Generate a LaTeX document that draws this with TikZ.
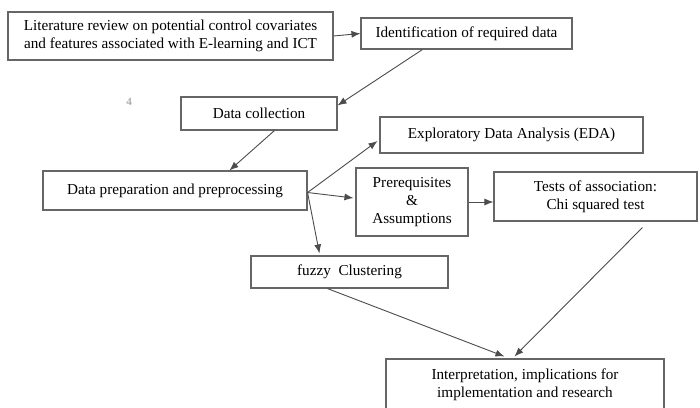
\documentclass[tikz,border=0pt]{standalone}
\usepackage{fontspec}
\setmainfont{Liberation Serif}
\usetikzlibrary{arrows.meta,calc}
\begin{document}
\begin{tikzpicture}[x=1pt,y=-1pt,
  box/.style={draw=black!60,line width=1.1pt,fill=white,inner sep=1pt,align=center,
    font=\fontsize{15.2}{18}\selectfont,text=black},
  conn/.style={draw=black!70,line width=0.9pt,-{Latex[length=9pt,width=7pt]}}]
\clip (0,0) rectangle (700,407);
\fill[white] (0,0) rectangle (700,407);
\node[box,minimum width=325pt,minimum height=48pt] (lit) at (170.5,36)
  {Literature review on potential control covariates\\and features associated with E-learning and ICT};
\node[box,minimum width=211pt,minimum height=31pt] (ident) at (466.5,33.5) {Identification of required data};
\node[text=black!45,font=\fontsize{11}{12}\selectfont] (four) at (129,102) {4};
\node[box,minimum width=156pt,minimum height=33pt] (dcol) at (259,113.5) {Data collection};
\node[box,minimum width=263pt,minimum height=36pt] (eda) at (511.5,135) {Exploratory Data Analysis (EDA)};
\node[box,minimum width=264pt,minimum height=39pt] (prep) at (175,190.5) {Data preparation and preprocessing};
\node[box,minimum width=112pt,minimum height=68pt] (prereq) at (412,202) {Prerequisites\\\&\\Assumptions};
\node[box,minimum width=203pt,minimum height=49pt] (tests) at (595.5,196.5) {Tests of association:\\Chi squared test};
\node[box,minimum width=197pt,minimum height=32pt] (fuzzy) at (349.5,272) {fuzzy\ \ Clustering};
\node[box,minimum width=278pt,minimum height=52pt] (interp) at (525,385) {Interpretation, implications for\\implementation and research};
\coordinate (p) at ([yshift=-2pt]prep.east);
\draw[conn] (lit.east) -- (ident.west);
\draw[conn] ([xshift=62pt]ident.south west) -- ([yshift=-9pt]dcol.north east);
\draw[conn] ([xshift=94pt]dcol.south west) -- ([xshift=187pt]prep.north west);
\draw[conn] (p) -- ([yshift=-6pt,xshift=-2pt]eda.west);
\draw[conn] (p) -- ([yshift=4pt,xshift=-2pt]prereq.west);
\draw[conn] (p) -- ([xshift=69pt,yshift=2pt]fuzzy.north west);
\draw[conn] (prereq.east) -- (prereq.east -| tests.west);
\draw[conn] ([xshift=149pt,yshift=-6pt]tests.south west) -- ([xshift=129pt,yshift=2pt]interp.north west);
\draw[conn] ([xshift=77pt]fuzzy.south west) -- ([xshift=119pt,yshift=2pt]interp.north west);
\end{tikzpicture}
\end{document}
